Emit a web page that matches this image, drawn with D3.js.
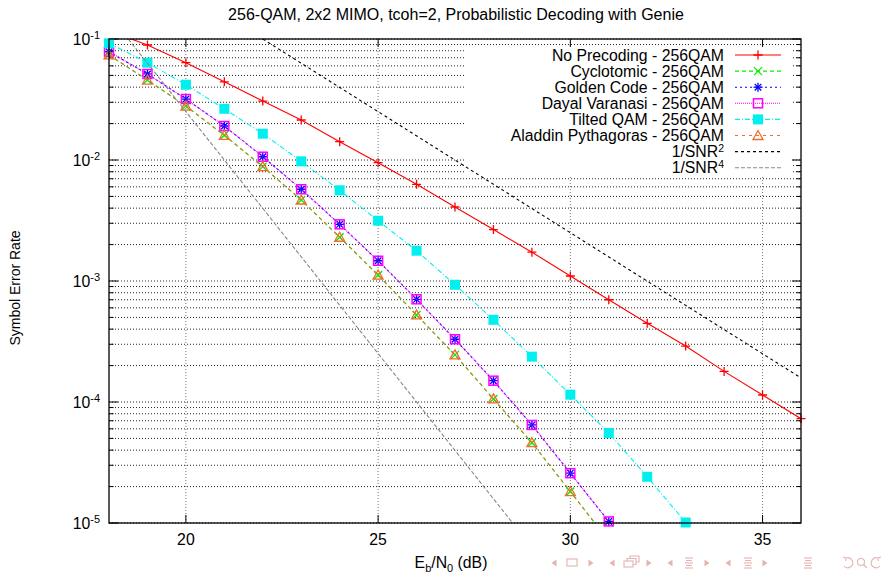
<!DOCTYPE html>
<html>
<head>
<meta charset="utf-8">
<title>256-QAM, 2x2 MIMO</title>
<style>
  body { margin: 0; background: #fff; }
  text { font-family: "Liberation Sans", Arial, Helvetica, sans-serif; fill: #000; }
</style>
</head>
<body>
<svg width="890" height="573"></svg>
<script src="https://d3js.org/d3.v7.min.js"></script>
<script>

// Eb/N0 points (dB)
var ebnoLong = [18, 19, 20, 21, 22, 23, 24, 25, 26, 27, 28, 29, 30, 31, 32, 33, 34, 35, 36];
var ebnoTilted = [18, 19, 20, 21, 22, 23, 24, 25, 26, 27, 28, 29, 30, 31, 32, 33];
var ebnoShort = [18, 19, 20, 21, 22, 23, 24, 25, 26, 27, 28, 29, 30, 31];

// symbol error rates
var noPrecoding = [0.117, 0.0892, 0.0637, 0.0443, 0.0307, 0.0214, 0.01417, 0.0095, 0.0063, 0.00409,
    0.00266, 0.00173, 0.0011, 0.0007, 0.000447, 0.00029, 0.000179, 0.0001143, 0.0000728];
var cyclotomic = [0.0738, 0.0458, 0.0279, 0.016, 0.00881, 0.00467, 0.0023, 0.00112, 0.000524,
    0.000245, 0.000106, 0.0000461, 0.0000182, 0.0000071];
var goldenCode = [0.0785, 0.0514, 0.0319, 0.0191, 0.01064, 0.00573, 0.00294, 0.00147, 0.000706,
    0.00033, 0.00015, 0.0000646, 0.0000258, 0.0000103];
var dayalVaranasi = [0.0785, 0.0514, 0.0319, 0.0191, 0.01064, 0.00573, 0.00294, 0.00147, 0.000706,
    0.00033, 0.00015, 0.0000646, 0.0000258, 0.0000103];
var tiltedQam = [0.0921, 0.0637, 0.0419, 0.0265, 0.0165, 0.00975, 0.00562, 0.00315, 0.00178,
    0.000931, 0.000478, 0.000237, 0.000115, 0.0000554, 0.0000241, 0.0000101];
var aladdin = [0.0738, 0.0458, 0.0279, 0.016, 0.00881, 0.00467, 0.0023, 0.00112, 0.000524,
    0.000245, 0.000106, 0.0000461, 0.0000182, 0.0000071];

// reference slopes, two points each
var snr2X = [22, 36], snr2Y = [0.1, 0.000158];
var snr4X = [18.5, 28.5], snr4Y = [0.1, 0.00001];

var xTicks = [20, 25, 30, 35];
var yDecades = [1e-5, 1e-4, 1e-3, 1e-2, 1e-1];
var yDecadeLabels = ["-5", "-4", "-3", "-2", "-1"];

var series = [
    {name: "No Precoding - 256QAM", x: ebnoLong, y: noPrecoding, color: "#ff0000", dash: null, mark: "plus"},
    {name: "Cyclotomic - 256QAM", x: ebnoShort, y: cyclotomic, color: "#00ee00", dash: "4,3", mark: "cross"},
    {name: "Golden Code - 256QAM", x: ebnoShort, y: goldenCode, color: "#0000ff", dash: "2,3", mark: "star"},
    {name: "Dayal Varanasi - 256QAM", x: ebnoShort, y: dayalVaranasi, color: "#ff00ff", dash: "1,1", mark: "box"},
    {name: "Tilted QAM - 256QAM", x: ebnoTilted, y: tiltedQam, color: "#00f0f0", dash: "5,2,1,2", mark: "fbox"},
    {name: "Aladdin Pythagoras - 256QAM", x: ebnoShort, y: aladdin, color: "#f46a2a", dash: "3,4", mark: "tri"},
    {name: "1/SNR", sup: "2", x: snr2X, y: snr2Y, color: "#000000", dash: "3,3", mark: null},
    {name: "1/SNR", sup: "4", x: snr4X, y: snr4Y, color: "#888888", dash: "4,2", mark: null}
];

var svg = d3.select("svg");
var L = 109, R = 801, T = 39, B = 523;
var fs = "15.8px", fsSmall = "11px";

var x = d3.scaleLinear().domain([18, 36]).range([L, R]);
var y = d3.scaleLog().domain([1e-5, 1e-1]).range([B, T]);

// all log ticks (1..9 per decade)
var yAll = y.ticks();

svg.append("text")
    .attr("x", (L + R) / 2 + 1).attr("y", 20)
    .attr("text-anchor", "middle")
    .style("font-size", "16px")
    .text("256-QAM, 2x2 MIMO, tcoh=2, Probabilistic Decoding with Genie");

// grid
var grid = svg.append("g");
grid.selectAll("line.h").data(yAll).enter().append("line")
    .attr("x1", L).attr("x2", R)
    .attr("y1", function(d) { return y(d); }).attr("y2", function(d) { return y(d); })
    .attr("stroke", "#222").attr("stroke-width", 1).attr("stroke-dasharray", "1,2");
grid.selectAll("line.v").data(xTicks).enter().append("line")
    .attr("x1", function(d) { return x(d); }).attr("x2", function(d) { return x(d); })
    .attr("y1", T).attr("y2", B)
    .attr("stroke", "#777").attr("stroke-width", 1).attr("stroke-dasharray", "1,2");

// legend background hides the grid
svg.append("rect").attr("x", 464).attr("y", 46).attr("width", 328).attr("height", 130).attr("fill", "#fff");

// ticks on all four sides
var ticks = svg.append("g").attr("stroke", "#000").attr("stroke-width", 1);
yAll.forEach(function(d) {
    var major = yDecades.indexOf(d) >= 0;
    var len = major ? 9 : 4.5;
    ticks.append("line").attr("x1", L).attr("x2", L + len).attr("y1", y(d)).attr("y2", y(d));
    ticks.append("line").attr("x1", R).attr("x2", R - len).attr("y1", y(d)).attr("y2", y(d));
});
xTicks.forEach(function(d) {
    ticks.append("line").attr("x1", x(d)).attr("x2", x(d)).attr("y1", B).attr("y2", B - 8);
    ticks.append("line").attr("x1", x(d)).attr("x2", x(d)).attr("y1", T).attr("y2", T + 8);
});

// tick labels
svg.selectAll("text.xt").data(xTicks).enter().append("text")
    .attr("x", function(d) { return x(d); }).attr("y", 545)
    .attr("text-anchor", "middle").style("font-size", fs)
    .text(function(d) { return d; });

yDecades.forEach(function(d, i) {
    var t = svg.append("text").attr("x", 100).attr("y", y(d) + 6)
        .attr("text-anchor", "end").style("font-size", fs);
    t.append("tspan").text("10");
    t.append("tspan").attr("dy", -6).style("font-size", fsSmall).text(yDecadeLabels[i]);
});

// axis titles
var xl = svg.append("text").attr("x", 451).attr("y", 568).attr("text-anchor", "middle").style("font-size", fs);
xl.append("tspan").text("E");
xl.append("tspan").attr("dy", 4).style("font-size", fsSmall).text("b");
xl.append("tspan").attr("dy", -4).text("/N");
xl.append("tspan").attr("dy", 4).style("font-size", fsSmall).text("0");
xl.append("tspan").attr("dy", -4).text(" (dB)");

svg.append("text")
    .attr("transform", "translate(20," + 288 + ") rotate(-90)")
    .attr("text-anchor", "middle").style("font-size", "14px")
    .text("Symbol Error Rate");

// data
svg.append("clipPath").attr("id", "plotclip")
    .append("rect").attr("x", L).attr("y", T).attr("width", R - L).attr("height", B - T);

var line = d3.line()
    .x(function(d) { return x(d[0]); })
    .y(function(d) { return y(d[1]); });

function drawMark(g, type, color, cx, cy) {
    var s = 4.5;
    if (type == "plus" || type == "star") {
        g.append("path").attr("d", "M" + (cx - s) + "," + cy + "H" + (cx + s) + "M" + cx + "," + (cy - s) + "V" + (cy + s))
            .attr("stroke", color).attr("stroke-width", 1.3).attr("fill", "none");
    }
    if (type == "cross" || type == "star") {
        var c = type == "star" ? 3.3 : 4;
        g.append("path").attr("d", "M" + (cx - c) + "," + (cy - c) + "L" + (cx + c) + "," + (cy + c) +
                "M" + (cx - c) + "," + (cy + c) + "L" + (cx + c) + "," + (cy - c))
            .attr("stroke", color).attr("stroke-width", 1.3).attr("fill", "none");
    }
    if (type == "box") {
        g.append("rect").attr("x", cx - 4.5).attr("y", cy - 4.5).attr("width", 9).attr("height", 9)
            .attr("stroke", color).attr("stroke-width", 1.5).attr("fill", "none");
    }
    if (type == "fbox") {
        g.append("rect").attr("x", cx - 5).attr("y", cy - 5).attr("width", 10).attr("height", 10)
            .attr("fill", color);
    }
    if (type == "tri") {
        g.append("path").attr("d", "M" + cx + "," + (cy - 5) + "L" + (cx + 5) + "," + (cy + 4) + "L" + (cx - 5) + "," + (cy + 4) + "Z")
            .attr("stroke", color).attr("stroke-width", 1.3).attr("fill", "none");
    }
}

var plot = svg.append("g");
series.forEach(function(s) {
    var pts = s.x.map(function(v, i) { return [v, s.y[i]]; });
    plot.append("path").datum(pts)
        .attr("clip-path", "url(#plotclip)")
        .attr("d", line)
        .attr("fill", "none")
        .attr("stroke", s.color)
        .attr("stroke-width", 1.1)
        .attr("stroke-dasharray", s.dash);
    if (s.mark) {
        var g = plot.append("g");
        pts.forEach(function(p) {
            if (p[1] <= 0.1 && p[1] >= 0.98e-5) drawMark(g, s.mark, s.color, x(p[0]), y(p[1]));
        });
    }
});

// frame
svg.append("rect").attr("x", L).attr("y", T).attr("width", R - L).attr("height", B - T)
    .attr("fill", "none").attr("stroke", "#000").attr("stroke-width", 1.3);

// legend
var legend = svg.append("g");
series.forEach(function(s, i) {
    var ly = 55 + i * 16.1;
    var t = legend.append("text").attr("x", 724).attr("y", ly + 5.5)
        .attr("text-anchor", "end").style("font-size", fs);
    t.append("tspan").text(s.name);
    if (s.sup) t.append("tspan").attr("dy", -5).style("font-size", "10.5px").text(s.sup);
    legend.append("line").attr("x1", 735).attr("x2", 781).attr("y1", ly).attr("y2", ly)
        .attr("stroke", s.color).attr("stroke-width", 1.1).attr("stroke-dasharray", s.dash);
    if (s.mark) drawMark(legend, s.mark, s.color, 758, ly);
});

// beamer navigation symbols
var nav = svg.append("g").attr("fill", "none").attr("stroke", "#e6b3b3").attr("stroke-width", 1.1);
function triL(cx) { nav.append("path").attr("d", "M" + (cx + 2.5) + ",559.5L" + (cx - 2.5) + ",563L" + (cx + 2.5) + ",566.5Z").attr("fill", "#e6b3b3").attr("stroke", "none"); }
function triR(cx) { nav.append("path").attr("d", "M" + (cx - 2.5) + ",559.5L" + (cx + 2.5) + ",563L" + (cx - 2.5) + ",566.5Z").attr("fill", "#e6b3b3").attr("stroke", "none"); }
function bars(cx) {
    [-5, -2.5, 0, 2.5, 5].forEach(function(o, k) {
        var w = (k % 2) ? 4 : 6;
        nav.append("line").attr("x1", cx - w / 2 - 1).attr("x2", cx + w / 2 + 1).attr("y1", 563 + o).attr("y2", 563 + o);
    });
}
triL(554); nav.append("rect").attr("x", 567).attr("y", 559).attr("width", 10).attr("height", 7); triR(591);
triL(612);
nav.append("rect").attr("x", 624).attr("y", 561).attr("width", 9).attr("height", 6);
nav.append("path").attr("d", "M627,561V558.5H636V564.5H633M630,558.5V556H639V562H636");
triR(649);
triL(670); bars(689); triR(707);
triL(728); bars(748); triR(765);
bars(808);
nav.append("path").attr("d", "M846,558A5,5 0 1,1 844,566M846,558L843,557M846,558L845.5,561");
nav.append("circle").attr("cx", 861).attr("cy", 562).attr("r", 3.5);
nav.append("line").attr("x1", 863.5).attr("y1", 564.5).attr("x2", 867).attr("y2", 568);
nav.append("path").attr("d", "M878,558A5,5 0 1,0 880,566M878,558L881,557M878,558L878.5,561");

</script>
</body>
</html>
